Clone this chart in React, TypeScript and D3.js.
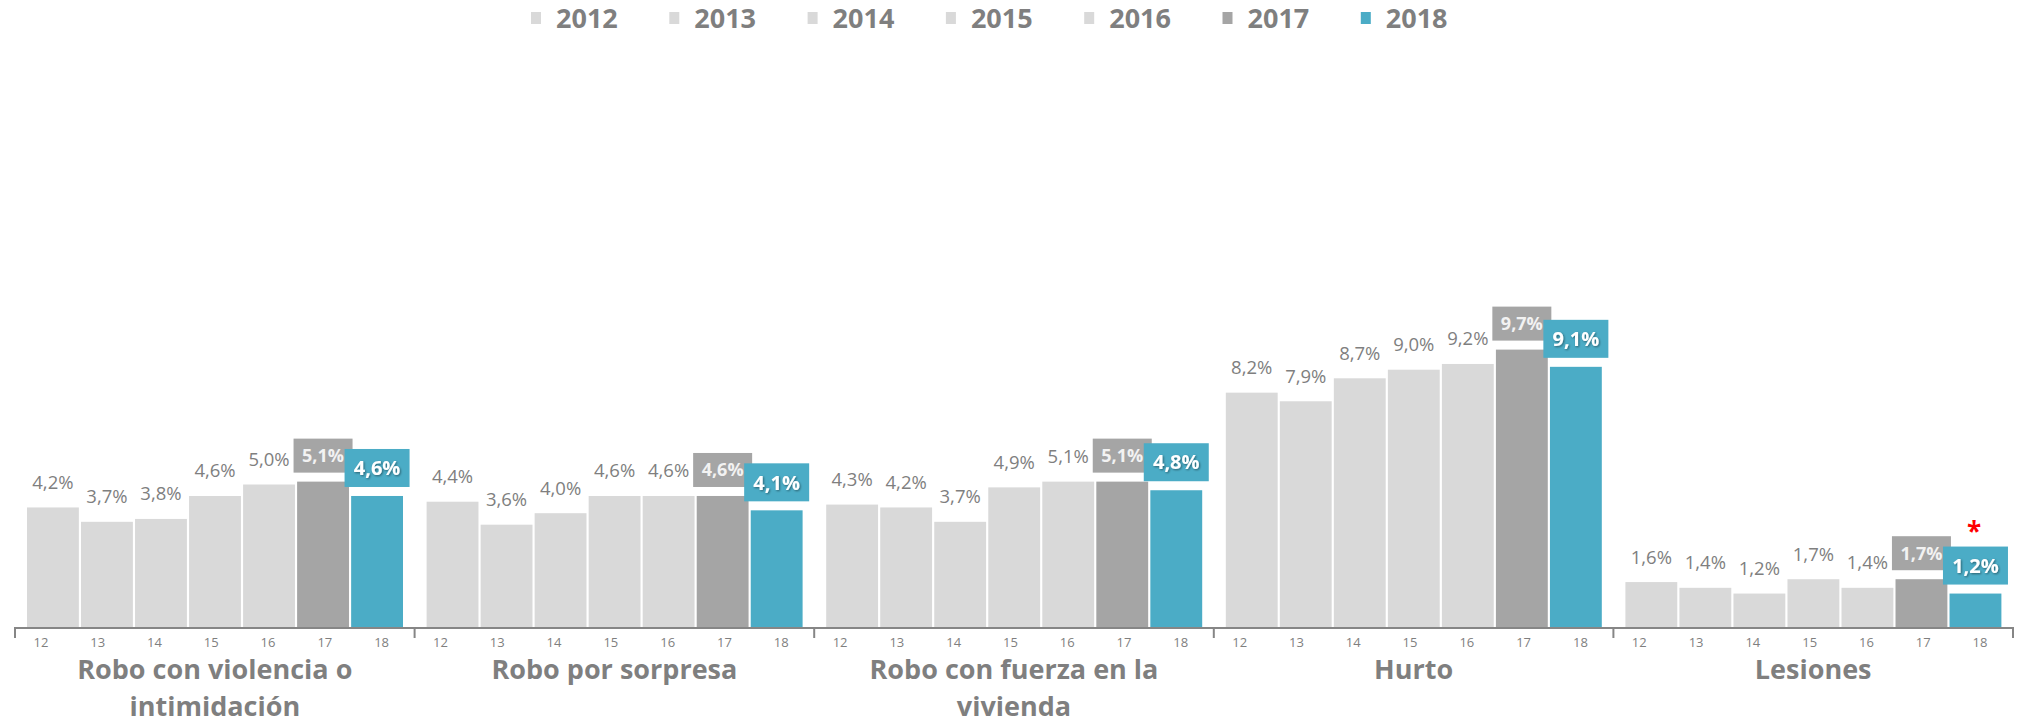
import React from "react";
import * as d3 from "d3";

const width = 2029;
const height = 724;

const years = ["2012", "2013", "2014", "2015", "2016", "2017", "2018"];
const yearTicks = ["12", "13", "14", "15", "16", "17", "18"];
const categories = [
  "Robo con violencia o intimidación",
  "Robo por sorpresa",
  "Robo con fuerza en la vivienda",
  "Hurto",
  "Lesiones",
];
const categoryLines = [
  ["Robo con violencia o", "intimidación"],
  ["Robo por sorpresa"],
  ["Robo con fuerza en la", "vivienda"],
  ["Hurto"],
  ["Lesiones"],
];
const robVio = [4.2, 3.7, 3.8, 4.6, 5.0, 5.1, 4.6];
const robSorp = [4.4, 3.6, 4.0, 4.6, 4.6, 4.6, 4.1];
const robFuerza = [4.3, 4.2, 3.7, 4.9, 5.1, 5.1, 4.8];
const hurto = [8.2, 7.9, 8.7, 9.0, 9.2, 9.7, 9.1];
const lesiones = [1.6, 1.4, 1.2, 1.7, 1.4, 1.7, 1.2];
const values = [robVio, robSorp, robFuerza, hurto, lesiones];

const colors = ["#d9d9d9", "#d9d9d9", "#d9d9d9", "#d9d9d9", "#d9d9d9", "#a5a5a5", "#4bacc6"];
const font = "'Open Sans', sans-serif";
const grey = "#7f7f7f";

const fmt = (v: number) => v.toFixed(1).replace(".", ",") + "%";

export default function App() {
  const x0 = d3.scaleBand().domain(categories).range([15, 2013]);
  const x1 = d3.scaleBand().domain(years).range([12, 388]).paddingInner(0.04);
  // the axis labels of the inner level are spread a little differently from the bars
  const xt = d3.scaleBand().domain(yearTicks).range([-2.5, 395]);
  const y = d3.scaleLinear().domain([0, 10]).range([628, 341]);
  const bw = x1.bandwidth();

  return (
    <svg
      width={width}
      height={height}
      style={{ position: "absolute", left: 0, top: 0, display: "block", background: "#fff" }}
    >
      <defs>
        <filter id="tsh" x="-20%" y="-20%" width="140%" height="140%">
          <feDropShadow dx="1" dy="1" stdDeviation="0.8" floodColor="#000" floodOpacity="0.45" />
        </filter>
      </defs>

      {/* legend */}
      {years.map((yr, i) => (
        <g key={yr} transform={`translate(${531 + i * 138.3},0)`}>
          <rect x={0} y={12} width={10} height={12} fill={colors[i]} />
          <text x={25} y={28} fontFamily={font} fontWeight="bold" fontSize={27} fill={grey}>
            {yr}
          </text>
        </g>
      ))}

      {categories.map((c, ci) => {
        const gx = x0(c)!;
        return (
          <g key={c} transform={`translate(${gx},0)`}>
            {values[ci].map((v, i) => {
              const bx = x1(years[i])!;
              return (
                <rect key={i} x={bx} y={y(v)} width={bw} height={y(0) - y(v)} fill={colors[i]} />
              );
            })}
            {values[ci].map((v, i) => {
              const cx = x1(years[i])! + bw / 2;
              if (i < 5) {
                return (
                  <text
                    key={"l" + i}
                    x={cx}
                    y={y(v) - 25}
                    dy="0.35em"
                    textAnchor="middle"
                    fontFamily={font}
                    fontSize={18.5}
                    fill={grey}
                  >
                    {fmt(v)}
                  </text>
                );
              }
              const big = i === 6;
              const bwBox = big ? 65 : 59;
              const bh = big ? 38 : 34;
              const top = y(v) - 9 - bh;
              return (
                <g key={"l" + i}>
                  <rect x={cx - bwBox / 2} y={top} width={bwBox} height={bh} fill={colors[i]} />
                  <text
                    x={cx}
                    y={top + bh / 2}
                    dy="0.36em"
                    textAnchor="middle"
                    fontFamily={font}
                    fontWeight="bold"
                    fontSize={big ? 20 : 18}
                    fill={big ? "#ffffff" : "#f2f2f2"}
                    filter={big ? "url(#tsh)" : undefined}
                  >
                    {fmt(v)}
                  </text>
                </g>
              );
            })}
            {yearTicks.map((t) => (
              <text
                key={"t" + t}
                x={xt(t)! + xt.bandwidth() / 2}
                y={642}
                dy="0.35em"
                textAnchor="middle"
                fontFamily={font}
                fontSize={13}
                fill={grey}
              >
                {t}
              </text>
            ))}
            {categoryLines[ci].map((ln, li) => (
              <text
                key={"c" + li}
                x={x0.bandwidth() / 2}
                y={670 + li * 37}
                dy="0.35em"
                textAnchor="middle"
                fontFamily={font}
                fontWeight="bold"
                fontSize={27}
                fill={grey}
              >
                {ln}
              </text>
            ))}
          </g>
        );
      })}

      {/* axis */}
      <line x1={15} x2={2013} y1={628} y2={628} stroke="#868686" strokeWidth={2} />
      {[...categories.map((c) => x0(c)!), 2013].map((tx, i) => (
        <line key={i} x1={tx} x2={tx} y1={627} y2={638} stroke="#868686" strokeWidth={2} />
      ))}

      {/* asterisk */}
      <text x={1974} y={541} textAnchor="middle" fontFamily={font} fontWeight="bold" fontSize={26} fill="#ff0000">
        *
      </text>
    </svg>
  );
}
